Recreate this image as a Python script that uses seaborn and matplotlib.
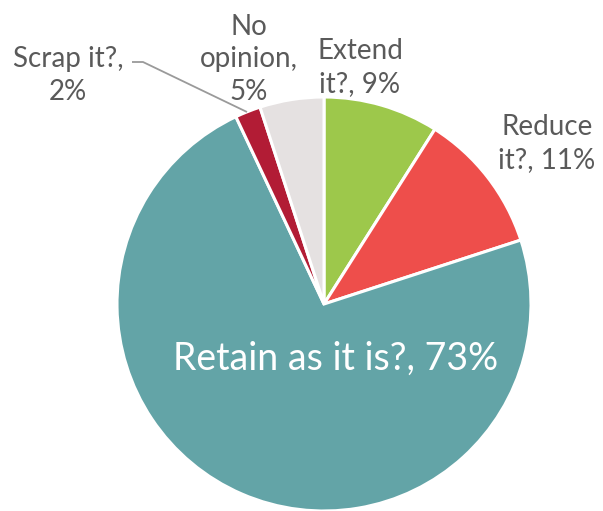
import matplotlib
matplotlib.use("Agg")
import matplotlib.pyplot as plt
import seaborn as sns

# Survey answers, in drawing order (clockwise from 12 o'clock)
categories = ["Extend it?", "Reduce it?", "Retain as it is?", "Scrap it?", "No opinion"]
shares = [9, 11, 73, 2, 5]
colors = ["#9DC84B", "#EE4E4B", "#63A4A7", "#B21C35", "#E5E1E1"]

sns.set_theme(style="white")
plt.rcParams["font.family"] = ["Lato", "DejaVu Sans"]

W, H = 603, 511
fig = plt.figure(figsize=(W / 100, H / 100), dpi=100)
ax = fig.add_axes([0, 0, 1, 1])

ax.pie(
    shares,
    colors=colors,
    startangle=90,
    counterclock=False,
    center=(324, H - 304),
    radius=207,
    wedgeprops=dict(edgecolor="white", linewidth=2.2),
    frame=True,
)
ax.set_xlim(0, W)
ax.set_ylim(0, H)
ax.set_aspect("equal")
ax.axis("off")

label_color = "#5A5A5A"
small = 20
ls = 1.32

def lab(i):
    return f"{categories[i]}, {shares[i]}%"

# y positions below are the baselines of each label's last line
ax.text(360, H - 92, f"Extend\nit?, {shares[0]}%", ha="center", va="baseline",
        fontsize=small, color=label_color, linespacing=ls)
ax.text(547, H - 168, f"Reduce\nit?, {shares[1]}%", ha="center", va="baseline",
        fontsize=small, color=label_color, linespacing=ls)
ax.text(336, H - 370, lab(2), ha="center", va="baseline",
        fontsize=27, color="white")
ax.text(68, H - 100, f"{categories[3]},\n{shares[3]}%", ha="center", va="baseline",
        fontsize=small, color=label_color, linespacing=ls)
ax.text(249, H - 100, f"No\nopinion,\n{shares[4]}%", ha="center", va="baseline",
        fontsize=small, color=label_color, linespacing=ls)

# leader line for the thin "Scrap it?" slice
ax.plot([132, 143, 247], [H - 62, H - 62, H - 112], color="#9A9A9A", lw=1.3,
        solid_capstyle="butt")

fig.savefig("out.png", dpi=100)
